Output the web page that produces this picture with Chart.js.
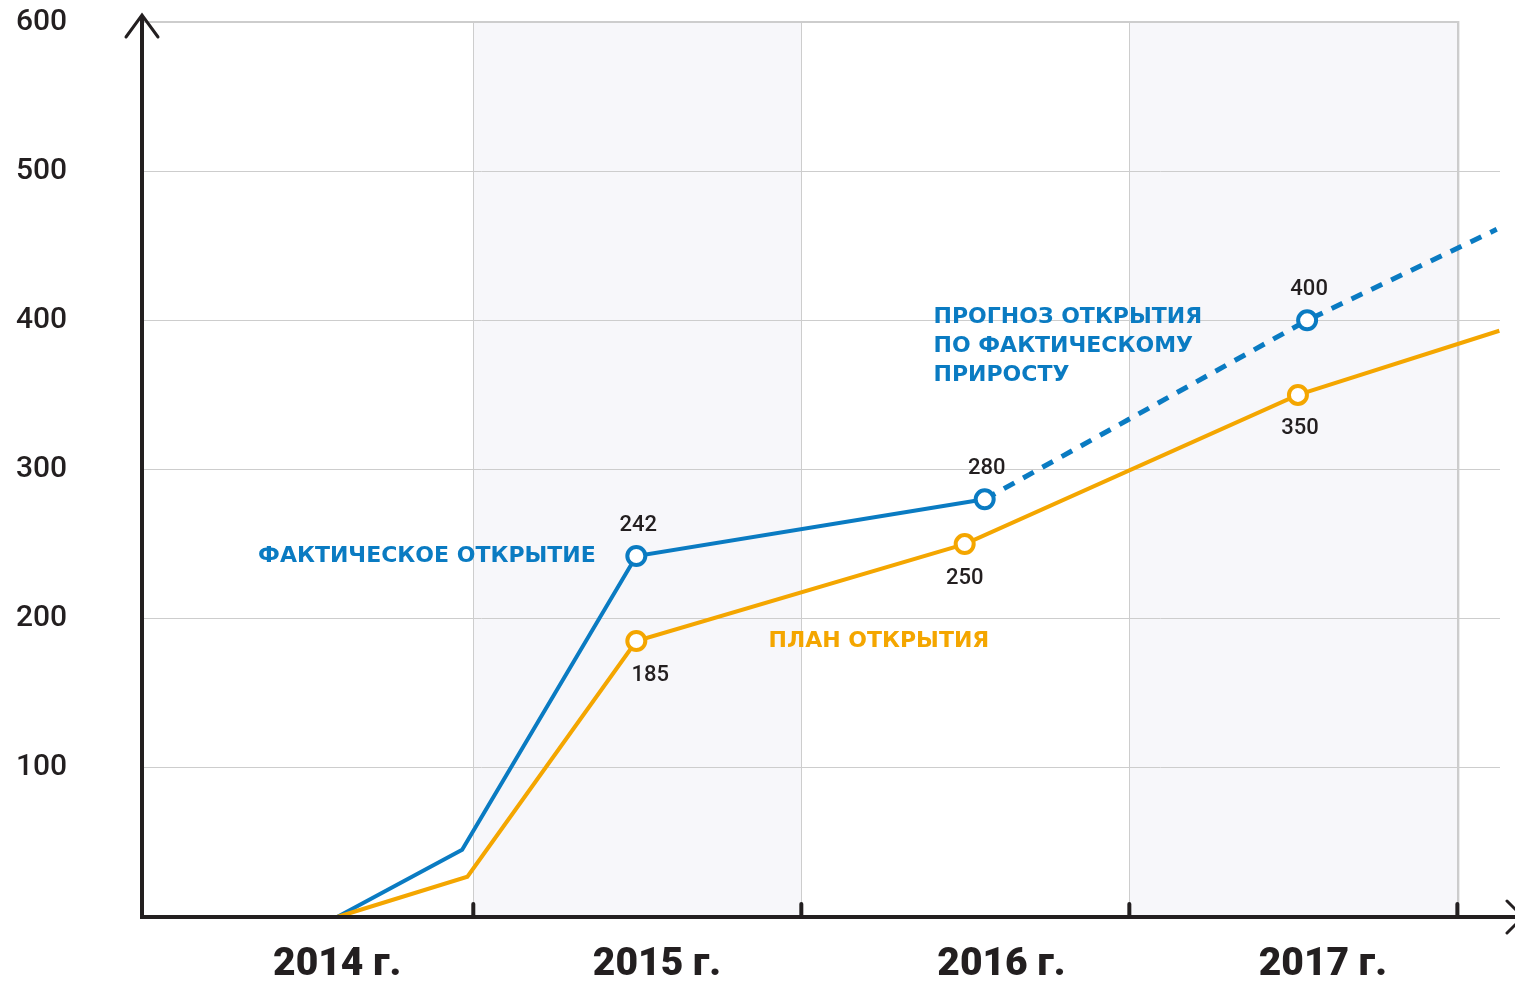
<!DOCTYPE html>
<html>
<head>
<meta charset="utf-8">
<script src="https://cdn.jsdelivr.net/npm/chart.js@4.4.0/dist/chart.umd.min.js"></script>
<style>
    html, body { margin: 0; padding: 0; background: #fff; }
    #wrap { width: 1515px; height: 982px; }
</style>
</head>
<body>
<div id="wrap"><canvas id="chart"></canvas></div>
<script>
// --- data ---
const yearLabels = ['2014 г.', '2015 г.', '2016 г.', '2017 г.'];
const yearLabelPos = [2014.585, 2015.56, 2016.61, 2017.59];
const yearGrid = [2015, 2016, 2017, 2018];
const shadedYears = [2015, 2017];
const yTicks = [0, 100, 200, 300, 400, 500, 600];

const factX = [2014.585, 2014.966, 2015.497, 2016.559];
const factY = [0, 45, 242, 280];
const factMarked = [false, false, true, true];

const forecastX = [2016.559, 2017.542, 2018.12];
const forecastY = [280, 400, 461];
const forecastMarked = [false, true, false];

const planX = [2014.585, 2014.982, 2015.497, 2016.498, 2017.514, 2018.128];
const planY = [0, 27, 185, 250, 350, 393];
const planMarked = [false, false, true, true, true, false];

const notes = [
    { lines: ['ФАКТИЧЕСКОЕ ОТКРЫТИЕ'], x: 2014.344, y: 242, series: 'fact' },
    { lines: ['ПЛАН ОТКРЫТИЯ'], x: 2015.90, y: 185, series: 'plan' },
    { lines: ['ПРОГНОЗ ОТКРЫТИЯ', 'ПО ФАКТИЧЕСКОМУ', 'ПРИРОСТУ'], x: 2016.403, y: 402, series: 'fact' }
];

const BLUE = '#0a7bc2';
const ORANGE = '#f4a600';
const INK = '#231f20';
const GRID = '#cdcdcd';
const BAND = '#f7f7fa';
const X_MIN = 2013.99, X_MAX = 2018.13;
const Y_MAX = 600;

const toPoints = (xs, ys) => xs.map((x, i) => ({ x: x, y: ys[i] }));
const radii = marks => marks.map(m => m ? 9 : 0);

// small label nudges (style only)
const planLabelDx = [0, 0, 14, 0, 2, 0];

const chartDecor = {
    id: 'chartDecor',
    beforeDraw(chart) {
        const { ctx, chartArea: a, scales: { x } } = chart;
        ctx.save();
        ctx.fillStyle = BAND;
        shadedYears.forEach(yr => {
            const l = x.getPixelForValue(yr);
            const r = x.getPixelForValue(yr + 1);
            ctx.fillRect(l, a.top, r - l, a.bottom - a.top);
        });
        ctx.restore();
    },
    beforeDatasetsDraw(chart) {
        // top frame line stops at the last year line
        const { ctx, chartArea: a, scales: { x, y } } = chart;
        const top = y.getPixelForValue(Y_MAX);
        const end = x.getPixelForValue(yearGrid[yearGrid.length - 1]);
        ctx.save();
        ctx.strokeStyle = GRID;
        ctx.lineWidth = 2;
        ctx.beginPath();
        ctx.moveTo(a.left, top);
        ctx.lineTo(end + 1, top);
        ctx.lineTo(end + 1, a.bottom);
        ctx.stroke();
        ctx.restore();
    },
    afterDatasetsDraw(chart) {
        const ctx = chart.ctx;
        ctx.save();
        ctx.font = '500 22px Roboto';
        ctx.fillStyle = INK;
        ctx.textAlign = 'center';
        ctx.textBaseline = 'middle';
        chart.data.datasets.forEach((ds, i) => {
            const meta = chart.getDatasetMeta(i);
            ds.marked.forEach((m, j) => {
                if (!m) return;
                const p = meta.data[j];
                const above = ds.labelSide === 'above';
                const dx = ds.key === 'plan' ? planLabelDx[j] : 2;
                ctx.fillText(String(ds.data[j].y), p.x + dx, p.y + (above ? -31 : 34));
            });
        });
        ctx.restore();
    },
    afterDraw(chart) {
        const { ctx, chartArea: a, scales: { x, y } } = chart;
        ctx.save();
        ctx.strokeStyle = INK;
        ctx.lineWidth = 4;
        ctx.lineCap = 'butt';
        // y axis
        ctx.beginPath();
        ctx.moveTo(a.left, a.bottom + 2);
        ctx.lineTo(a.left, a.top - 6);
        ctx.stroke();
        // x axis
        ctx.beginPath();
        ctx.moveTo(a.left - 2, a.bottom);
        ctx.lineTo(chart.width + 10, a.bottom);
        ctx.stroke();
        // year ticks
        ctx.lineCap = 'round';
        yearGrid.forEach(v => {
            const px = x.getPixelForValue(v);
            ctx.beginPath();
            ctx.moveTo(px, a.bottom);
            ctx.lineTo(px, a.bottom - 13);
            ctx.stroke();
        });
        // arrows
        ctx.lineWidth = 3;
        ctx.lineJoin = 'miter';
        ctx.lineCap = 'round';
        ctx.beginPath();
        ctx.moveTo(a.left - 16, a.top + 15);
        ctx.lineTo(a.left, a.top - 7);
        ctx.lineTo(a.left + 16, a.top + 15);
        ctx.stroke();
        ctx.beginPath();
        ctx.moveTo(a.right + 7, a.bottom - 16);
        ctx.lineTo(a.right + 23, a.bottom);
        ctx.lineTo(a.right + 7, a.bottom + 16);
        ctx.stroke();

        // series notes
        ctx.font = 'bold 22px "DejaVu Sans"';
        ctx.textAlign = 'left';
        ctx.textBaseline = 'middle';
        notes.forEach(n => {
            ctx.fillStyle = n.series === 'plan' ? ORANGE : BLUE;
            const nx = x.getPixelForValue(n.x);
            const ny = y.getPixelForValue(n.y);
            n.lines.forEach((t, k) => ctx.fillText(t, nx, ny + k * 29));
        });
        ctx.restore();
    }
};

const ctx = document.getElementById('chart').getContext('2d');
new Chart(ctx, {
    type: 'line',
    data: {
        datasets: [
            {
                key: 'plan',
                data: toPoints(planX, planY),
                marked: planMarked,
                labelSide: 'below',
                borderColor: ORANGE,
                borderWidth: 4,
                pointRadius: radii(planMarked),
                pointBackgroundColor: '#fff',
                pointBorderColor: ORANGE,
                pointBorderWidth: 4,
                tension: 0,
                order: 1
            },
            {
                key: 'fact',
                data: toPoints(factX, factY),
                marked: factMarked,
                labelSide: 'above',
                borderColor: BLUE,
                borderWidth: 4,
                pointRadius: radii(factMarked),
                pointBackgroundColor: '#fff',
                pointBorderColor: BLUE,
                pointBorderWidth: 4,
                tension: 0,
                order: 2
            },
            {
                key: 'forecast',
                data: toPoints(forecastX, forecastY),
                marked: forecastMarked,
                labelSide: 'above',
                borderColor: BLUE,
                borderWidth: 5,
                borderDash: [12, 10],
                pointRadius: radii(forecastMarked),
                pointBackgroundColor: '#fff',
                pointBorderColor: BLUE,
                pointBorderWidth: 4,
                tension: 0,
                order: 3
            }
        ]
    },
    options: {
        responsive: true,
        maintainAspectRatio: false,
        animation: false,
        clip: false,
        layout: { padding: { left: 16, top: 22, right: 15, bottom: 0 } },
        plugins: {
            legend: { display: false },
            tooltip: { enabled: false }
        },
        scales: {
            x: {
                type: 'linear',
                min: X_MIN,
                max: X_MAX,
                afterBuildTicks: s => { s.ticks = yearGrid.map(v => ({ value: v })); },
                afterFit: s => { s.height = 0; },
                ticks: { display: false },
                grid: { color: GRID, lineWidth: 1, drawTicks: false },
                border: { display: false }
            },
            x2: {
                type: 'linear',
                position: 'bottom',
                min: X_MIN,
                max: X_MAX,
                afterBuildTicks: s => { s.ticks = yearLabelPos.map(v => ({ value: v })); },
                afterFit: s => { s.height = 65; },
                ticks: {
                    callback: (v, i) => yearLabels[i],
                    font: { family: 'Roboto', size: 39, weight: 900 },
                    color: INK,
                    padding: 17,
                    maxRotation: 0,
                    autoSkip: false
                },
                grid: { display: false },
                border: { display: false }
            },
            y: {
                min: 0,
                max: Y_MAX,
                afterBuildTicks: s => { s.ticks = yTicks.map(v => ({ value: v })); },
                afterFit: s => { s.width = 126; },
                ticks: {
                    callback: v => v === 0 ? '' : String(v),
                    crossAlign: 'far',
                    font: { family: 'Roboto', size: 30, weight: 500 },
                    color: INK
                },
                grid: {
                    color: c => c.tick && c.tick.value === Y_MAX ? 'rgba(0,0,0,0)' : GRID,
                    lineWidth: 1,
                    drawTicks: false
                },
                border: { display: false }
            }
        }
    },
    plugins: [chartDecor]
});
</script>
</body>
</html>
